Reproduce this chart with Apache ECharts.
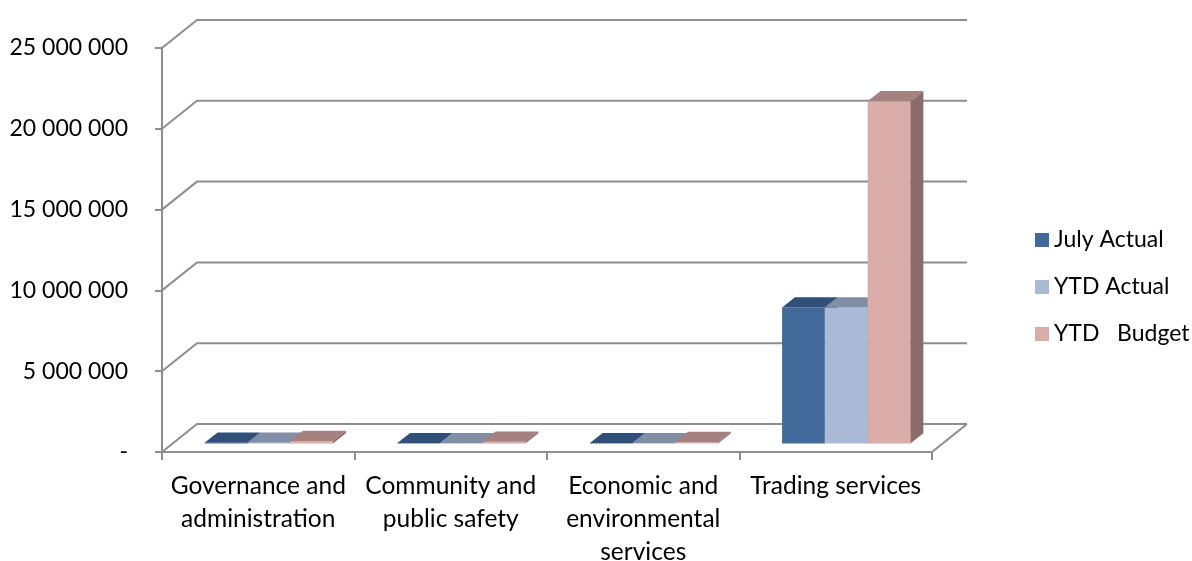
<!DOCTYPE html>
<html>
<head>
<meta charset="utf-8">
<script src="https://cdn.jsdelivr.net/npm/echarts@6/dist/echarts.min.js"></script>
<style>
  html, body { margin: 0; padding: 0; background: #ffffff; }
  #chart { width: 1192px; height: 561px; }
</style>
</head>
<body>
<div id="chart"></div>
<script>
// Categories and series values
const categories = [
  'Governance and\nadministration',
  'Community and\npublic safety',
  'Economic and\nenvironmental\nservices',
  'Trading services'
];
const julyActual = [45000, 20000, 15000, 8420000];
const ytdActual  = [45000, 20000, 15000, 8420000];
const ytdBudget  = [160000, 110000, 90000, 21180000];
const seriesNames = ['July Actual', 'YTD Actual', 'YTD   Budget'];
const tickValues = [0, 5000000, 10000000, 15000000, 20000000, 25000000];

// Oblique depth of the plot box (floor / back wall) and of each bar
const DEPTH_X = 35, DEPTH_Y = -28;
const BAR_FRONT = 0.3, BAR_BACK = 0.67;

// Face colours: [front, top, side]
const palette = [
  ['#416a9b', '#30507a', '#2c4a70'],
  ['#abbad7', '#818fa6', '#6f7d94'],
  ['#daacaa', '#a5817f', '#8c6c6b']
];
const gridColor = '#8e8e8e';
const FONT = 'Lato';

function fmt(v) {
  if (v === 0) return '-';
  return String(v).replace(/\B(?=(\d{3})+(?!\d))/g, ' ');
}

// Back wall lines and floor drawn from the value scale
function renderWalls(params, api) {
  const cs = params.coordSys;
  const v = api.value(1);
  const y = api.coord([0, v])[1];
  const children = [{
    type: 'polyline',
    shape: { points: [[cs.x, y], [cs.x + DEPTH_X, y + DEPTH_Y], [cs.x + cs.width + DEPTH_X, y + DEPTH_Y]] },
    style: { stroke: gridColor, lineWidth: 2, fill: null }
  }];
  if (v === 0) {
    children.push({
      type: 'line',
      shape: { x1: cs.x + cs.width, y1: y, x2: cs.x + cs.width + DEPTH_X, y2: y + DEPTH_Y },
      style: { stroke: gridColor, lineWidth: 2 }
    });
  }
  return { type: 'group', children };
}

// Box-shaped bar: front face, top face, right side
function makeBarRenderer(k) {
  return function (params, api) {
    const ci = api.value(0), v = api.value(1);
    const band = api.size([1, 0])[0];
    const bw = band / 4.5;
    const base = api.coord([ci, 0]);
    const top = api.coord([ci, v]);
    const fx = DEPTH_X * BAR_FRONT, fy = DEPTH_Y * BAR_FRONT;
    const dx = DEPTH_X * (BAR_BACK - BAR_FRONT), dy = DEPTH_Y * (BAR_BACK - BAR_FRONT);
    const x0 = base[0] - 1.5 * bw + k * bw + fx;
    const x1 = x0 + bw;
    const yb = base[1] + fy;
    const yt = top[1] + fy;
    const c = palette[k];
    return {
      type: 'group',
      children: [
        { type: 'polygon', shape: { points: [[x0, yt], [x1, yt], [x1, yb], [x0, yb]] }, style: { fill: c[0] } },
        { type: 'polygon', shape: { points: [[x0, yt], [x1, yt], [x1 + dx, yt + dy], [x0 + dx, yt + dy]] }, style: { fill: c[1] } },
        { type: 'polygon', shape: { points: [[x1, yt], [x1 + dx, yt + dy], [x1 + dx, yb + dy], [x1, yb]] }, style: { fill: c[2] } }
      ]
    };
  };
}

const valueLists = [julyActual, ytdActual, ytdBudget];

const chart = echarts.init(document.getElementById('chart'), null, { renderer: 'canvas' });
chart.setOption({
  animation: false,
  backgroundColor: '#ffffff',
  grid: { left: 162, right: 260, top: 48, bottom: 109, containLabel: false, outerBoundsMode: 'none' },
  legend: {
    data: seriesNames,
    orient: 'vertical',
    left: 1030,
    top: 223,
    icon: 'rect',
    itemWidth: 14,
    itemHeight: 14,
    itemGap: 23,
    textStyle: { fontFamily: FONT, fontSize: 23, color: '#000', lineHeight: 24 },
    selectedMode: false
  },
  xAxis: {
    type: 'category',
    data: categories,
    axisLine: { show: true, lineStyle: { color: gridColor, width: 2 } },
    axisTick: { show: true, length: 8, lineStyle: { color: gridColor, width: 2 } },
    axisLabel: { fontFamily: FONT, fontSize: 24.5, color: '#000', lineHeight: 33, margin: 18, interval: 0 },
    splitLine: { show: false }
  },
  yAxis: {
    type: 'value',
    min: 0,
    max: 25000000,
    interval: 5000000,
    axisLine: { show: true, lineStyle: { color: gridColor, width: 2 } },
    axisTick: { show: true, length: 7, lineStyle: { color: gridColor, width: 2 } },
    axisLabel: { fontFamily: FONT, fontSize: 23, color: '#000', margin: 34, formatter: fmt },
    splitLine: { show: false }
  },
  series: [
    {
      type: 'custom',
      name: 'walls',
      z: 1,
      silent: true,
      renderItem: renderWalls,
      data: tickValues.map(v => [0, v])
    }
  ].concat(seriesNames.map((name, k) => ({
    type: 'custom',
    name: name,
    z: 3 + k,
    silent: true,
    itemStyle: { color: palette[k][0] },
    renderItem: makeBarRenderer(k),
    data: valueLists[k].map((v, i) => [i, v])
  })))
});
</script>
</body>
</html>
